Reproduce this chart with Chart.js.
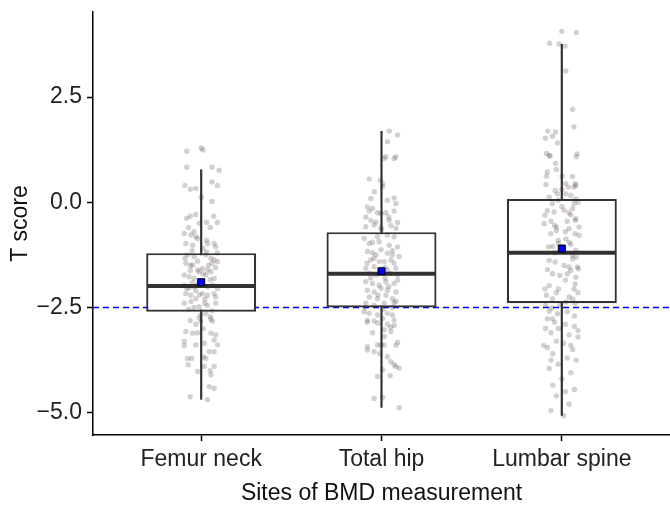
<!DOCTYPE html>
<html>
<head>
<meta charset="utf-8">
<script src="https://cdn.jsdelivr.net/npm/chart.js@4.4.0/dist/chart.umd.min.js"></script>
<style>
  html, body { margin: 0; padding: 0; background: #fff; }
  #wrap { width: 670px; height: 505px; position: relative; }
</style>
</head>
<body>
<div id="wrap"><canvas id="bmdChart"></canvas></div>
<script>
// box statistics per site
const categories = ['Femur neck', 'Total hip', 'Lumbar spine'];
const q1 = [-2.60, -2.50, -2.40];
const medians = [-1.99, -1.70, -1.20];
const q3 = [-1.21, -0.71, 0.08];
const whiskerLow = [-4.69, -4.88, -5.07];
const whiskerHigh = [0.78, 1.69, 3.76];
const means = [-1.90, -1.64, -1.10];
const threshold = -2.5;
const yTicks = [-5, -2.5, 0, 2.5];
const xRange = [0.4, 3.6];
const yRange = [-5.53, 4.52];

// jittered observations: [horizontal jitter, T score]
const femurPts = [
  [-0.08,1.21],[0,1.29],[0.01,1.24],[-0.08,0.83],[0.06,0.83],[0.1,0.76],[-0.09,0.40],[-0.06,0.31],
  [-0.03,0.33],[0.06,0.48],[0.09,0.40],[0,0.12],[0.06,0.02],[-0.08,-0.38],[-0.06,-0.33],[-0.03,-0.29],
  [0.07,-0.33],[0.09,-0.48],[-0.07,-0.60],[-0.01,-0.50],[0.03,-0.48],[0.05,-0.60],
  [-0.094,-0.74],[-0.057,-0.78],[-0.03,-0.82],[-0.02,-0.86],[-0.085,-0.98],[-0.048,-1.02],[0.035,-0.98],
  [0.072,-0.98],[0.081,-1.06],[-0.076,-1.25],[-0.039,-1.29],[0.026,-1.25],[0.054,-1.33],[0.072,-1.37],
  [0.091,-1.41],[-0.085,-1.45],[-0.048,-1.49],[-0.02,-1.61],[-0.011,-1.65],[0.007,-1.57],[0.035,-1.61],
  [0.054,-1.65],[-0.094,-1.73],[-0.067,-1.77],[-0.039,-1.81],[0.026,-1.73],[0.072,-1.81],[-0.094,-1.97],
  [-0.067,-2.03],[-0.039,-2.01],[0.035,-2.01],[0.063,-1.97],[0.091,-2.05],[-0.085,-2.17],[-0.057,-2.21],
  [-0.03,-2.29],[0.007,-2.17],[0.035,-2.21],[0.072,-2.17],[-0.094,-2.40],[-0.057,-2.36],[-0.011,-2.48],
  [0.035,-2.45],[0.081,-2.40],[-0.002,-2.68],[0.026,-2.64],
  [-0.02,-1.40],[0,-1.88],[-0.05,-1.92],[0.04,-1.50],[-0.03,-2.10],[0.02,-2.30],[-0.07,-2.55],
  [0.06,-2.58],[0.01,-1.10],[-0.04,-0.70],
  [-0.05,-1.15],[0.03,-1.18],[-0.09,-1.33],[0.08,-1.55],[-0.06,-1.62],[0.01,-1.70],[0.05,-1.84],
  [-0.02,-1.95],[0.08,-2.25],[-0.08,-2.05],[0.02,-2.40],[-0.04,-2.50],[0.05,-2.72],[-0.03,-2.90],
  [0.01,-3.00],[-0.06,-1.50],[0.03,-0.90],[0.09,-1.20],[-0.01,-2.20],[0.06,-1.45],
  [-0.061,-2.81],[-0.011,-2.75],[-0.002,-2.83],[0.054,-2.78],[0.063,-2.83],[-0.085,-3.07],[-0.048,-3.11],
  [-0.02,-3.10],[0.054,-3.11],[0.081,-3.15],[0.072,-3.27],[0.091,-3.39],[-0.094,-3.31],[-0.094,-3.41],
  [-0.03,-3.39],[0.017,-3.35],[0.044,-3.55],[0.072,-3.55],[-0.076,-3.71],[-0.054,-3.71],[0.013,-3.67],
  [0.026,-3.71],[-0.072,-3.86],[0.017,-3.90],[0.072,-3.90],[-0.02,-4.02],[0.05,-4.00],[0.054,-4.10],
  [0.044,-4.38],[0.072,-4.42],[-0.061,-4.62],[0.035,-4.69]
];
const hipPts = [
  [0.043,1.69],[0.089,1.60],[0.033,1.44],[0.024,1.08],[0.015,1.04],[0.07,1.04],[0.08,1.08],
  [-0.068,0.55],[-0.007,0.52],[0.006,0.44],[0.006,0.37],[-0.059,0.09],[0.033,0.05],[0.07,0.10],
  [0.08,-0.03],[-0.078,-0.11],[-0.05,-0.15],[-0.068,-0.21],[-0.022,-0.25],[-0.003,-0.27],[0.024,-0.25],
  [0.07,-0.21],[-0.087,-0.35],[-0.059,-0.43],[-0.031,-0.47],[0.043,-0.43],[0.089,-0.48],
  [-0.087,-0.58],[-0.041,-0.54],[-0.003,-0.60],[0.052,-0.56],[0.08,-0.62],[-0.096,-0.86],[-0.022,-0.82],
  [0.033,-0.78],[0.07,-0.82],[-0.068,-0.98],[-0.013,-0.94],[0.043,-1.02],[0.089,-1.06],[-0.078,-1.17],
  [-0.05,-1.20],[-0.003,-1.13],[0.033,-1.21],[0.061,-1.25],[0.098,-1.29],[-0.041,-1.33],[-0.013,-1.41],
  [-0.059,-1.37],[0.015,-1.41],[0.052,-1.37],[0.07,-1.45],[-0.087,-1.57],[-0.041,-1.53],[0.033,-1.61],
  [0.08,-1.57],[-0.068,-1.69],[-0.031,-1.73],[0.052,-1.69],[0.089,-1.73],[-0.087,-1.89],[-0.05,-1.93],
  [-0.013,-1.97],[0.024,-1.89],[0.07,-1.93],[-0.078,-2.09],[-0.041,-2.13],[-0.003,-2.05],[0.033,-2.09],
  [0.08,-2.13],[-0.068,-2.25],[-0.022,-2.29],[0.024,-2.21],[0.061,-2.29],[-0.087,-2.40],[-0.041,-2.45],
  [0.015,-2.40],[0.07,-2.39],[-0.096,-2.60],[-0.068,-2.64],[-0.022,-2.68],[0.033,-2.64],[0.061,-2.68],
  [-0.078,-2.80],[-0.041,-2.82],[0.006,-2.76],[0.07,-2.80],
  [0,-0.65],[-0.05,-0.95],[0.06,-1.15],[-0.03,-1.25],[0.02,-1.55],[-0.06,-1.80],[0.09,-1.85],
  [0.04,-2.00],[-0.02,-2.20],[0.08,-2.35],[-0.09,-2.50],[0.01,-2.55],[0.05,-2.97],[-0.05,-3.10],
  [-0.01,-3.60],[0.04,-0.35],[-0.04,0.25],[0.02,-1.80],[-0.08,-1.45],[0.06,-2.50],
  [-0.078,-2.85],[-0.022,-2.87],[0.033,-2.90],[0.07,-2.93],[0.015,-3.03],[0.052,-3.07],[0.015,-3.19],
  [-0.078,-3.43],[-0.078,-3.51],[-0.041,-3.55],[-0.022,-3.39],[-0.003,-3.39],[0.015,-3.39],[0.08,-3.40],
  [0.089,-3.33],[0.033,-3.67],[0.052,-3.79],[0.07,-3.86],[0.098,-3.94],[0.08,-3.90],[0.006,-3.98],
  [-0.022,-4.14],[0.048,-4.12],[-0.041,-4.66],[0.006,-4.64],[0.098,-4.88]
];
const lumbarPts = [
  [0,4.06],[0.081,4.03],[-0.067,3.78],[-0.015,3.76],[0.018,3.71],[0.022,3.12],[0.06,2.21],[0.067,1.79],
  [-0.078,1.69],[-0.035,1.67],[-0.091,1.52],[-0.052,1.57],[-0.024,1.41],[-0.085,1.16],[-0.07,1.11],
  [-0.065,1.10],[0.085,1.15],[0.08,1.08],[-0.035,0.92],[-0.08,0.72],[-0.085,0.62],[-0.03,0.78],
  [0.002,0.62],[0.059,0.61],[0.074,0.44],[0.078,0.40],[0.068,0.36],[-0.088,0.42],[0.022,0.44],[0.037,0.36],
  [-0.037,0.28],[-0.024,0.20],[-0.07,0.12],[0.022,0.20],[0.05,0.16],[0.078,0.08],[0.068,-0.03],
  [-0.052,-0.03],[0.013,-0.19],[0.04,-0.25],[-0.093,-0.31],[-0.043,-0.23],[0.078,-0.39],[0.074,-0.43],
  [-0.098,-0.51],[-0.03,-0.59],[0.096,-0.59],[-0.061,-0.75],[-0.03,-0.67],[0.04,-0.63],[0.074,-0.75],
  [0.096,-0.79],[0.022,-0.87],[-0.074,-1.06],[-0.019,-0.98],[0.078,-1.14],[0.059,-1.26],[-0.07,-1.38],
  [-0.037,-1.42],[0.013,-1.50],[0.04,-1.54],[0.087,-1.54],[0.092,-1.58],[-0.052,-1.70],[-0.011,-1.74],
  [0.05,-1.62],[0.078,-1.78],[0.074,-1.94],[-0.07,-1.98],[-0.093,-2.06],[-0.019,-2.06],[0.068,-2.06],
  [-0.085,-2.21],[0.04,-2.25],[-0.052,-2.29],[0.022,-2.37],[0.074,-2.40],[-0.056,-2.51],[-0.07,-2.59],
  [-0.024,-2.65],[-0.052,-2.77],[-0.08,-2.77],
  [0,-0.10],[0.03,-0.45],[-0.02,-0.90],[0.05,-1.00],[-0.04,-1.20],[0.06,-1.35],[0.02,-1.85],[-0.08,-1.60],
  [0.09,-2.15],[-0.01,-2.45],[0.05,-0.30],[-0.06,-0.45],
  [-0.02,0.05],[0.06,-0.15],[-0.08,-0.20],[0.02,-0.70],[-0.05,-1.05],[0.08,-1.30],[0.03,-1.70],
  [-0.03,-2.15],[0.06,-2.30],[-0.09,-2.45],[0.03,-2.60],[0.07,-2.70],[-0.02,-3.00],[0.05,-3.40],
  [-0.06,-3.75],[0.02,-4.50],[0,0.30],[0.09,0],[-0.04,-0.55],[0.04,-0.95],
  [-0.04,-2.85],[0.02,-2.90],[0.07,-2.95],[-0.09,-3.00],[-0.06,-3.10],[0.04,-3.15],[0.09,-3.20],
  [-0.03,-3.30],[0.01,-3.35],[-0.08,-3.45],[0.06,-3.50],[-0.05,-3.60],[0.03,-3.70],[0.08,-3.75],
  [-0.02,-3.85],[-0.07,-3.95],[0.05,-4.05],[0,-4.20],[-0.05,-4.35],[0.07,-4.45],[-0.03,-4.60],
  [0.04,-4.80],[-0.06,-4.95],[0.01,-5.07],[0.09,-3.05],[-0.1,-3.40]
];
const groupPts = [femurPts, hipPts, lumbarPts];

const FONT = "'Liberation Sans', Arial, Helvetica, sans-serif";
const INK = '#333333';

const datasets = [];

// mean markers on top
datasets.push({
  type: 'scatter', order: 0,
  data: means.map((m, i) => ({ x: i + 1, y: m })),
  pointStyle: 'rect', pointRadius: 5,
  backgroundColor: '#0000ff', borderColor: '#000', borderWidth: 1
});

// jittered points
datasets.push({
  type: 'scatter', order: 1,
  data: groupPts.flatMap((pts, i) => pts.map(([dx, y]) => ({ x: i + 1 + dx, y }))),
  pointRadius: 2.7, borderWidth: 0,
  backgroundColor: 'rgba(60,42,42,0.22)'
});

// medians and whiskers
categories.forEach((c, i) => {
  datasets.push({
    type: 'scatter', order: 2, showLine: true,
    data: [{ x: i + 1 - 0.3, y: medians[i] }, { x: i + 1 + 0.3, y: medians[i] }],
    borderColor: INK, borderWidth: 4, pointRadius: 0
  });
  datasets.push({
    type: 'scatter', order: 4, showLine: true,
    data: [{ x: i + 1, y: whiskerLow[i] }, { x: i + 1, y: whiskerHigh[i] }],
    borderColor: INK, borderWidth: 2.2, pointRadius: 0
  });
});

// boxes
datasets.push({
  type: 'bar', order: 3,
  data: categories.map((c, i) => ({ x: i + 1, y: [q1[i], q3[i]] })),
  backgroundColor: '#ffffff', borderColor: INK, borderWidth: 2.2,
  borderSkipped: false, barPercentage: 0.61, categoryPercentage: 1
});

// osteoporosis threshold
datasets.push({
  type: 'scatter', order: 5, showLine: true,
  data: [{ x: xRange[0], y: threshold }, { x: xRange[1], y: threshold }],
  borderColor: '#0000ff', borderWidth: 1.4, borderDash: [6, 4], pointRadius: 0
});

new Chart(document.getElementById('bmdChart'), {
  type: 'scatter',
  data: { datasets },
  options: {
    responsive: true,
    maintainAspectRatio: false,
    animation: false,
    events: [],
    layout: { autoPadding: false, padding: { top: 12, right: 0, left: 0, bottom: 0 } },
    plugins: { legend: { display: false }, tooltip: { enabled: false } },
    scales: {
      x: {
        type: 'linear', min: xRange[0], max: xRange[1], offset: false,
        afterBuildTicks: s => { s.ticks = categories.map((c, i) => ({ value: i + 1 })); },
        afterFit: s => { s.height = 70; s.paddingLeft = 0; s.paddingRight = 0; },
        border: { display: true, color: '#000', width: 1.5 },
        grid: { display: true, offset: false, drawOnChartArea: false, drawTicks: true, tickLength: 6, tickColor: '#000', tickWidth: 1.5 },
        ticks: {
          color: '#222', padding: 5, maxRotation: 0, autoSkip: false,
          font: { family: FONT, size: 23 },
          callback: v => categories[Math.round(v) - 1]
        },
        title: { display: true, text: 'Sites of BMD measurement', color: '#111', font: { family: FONT, size: 23, lineHeight: 1 }, padding: { top: 0, bottom: 0 } }
      },
      y: {
        type: 'linear', min: yRange[0], max: yRange[1],
        afterBuildTicks: s => { s.ticks = yTicks.map(v => ({ value: v })); },
        afterFit: s => { s.width = 93; s.paddingTop = 0; s.paddingBottom = 0; },
        border: { display: true, color: '#000', width: 1.5 },
        grid: { display: true, drawOnChartArea: false, drawTicks: true, tickLength: 6, tickColor: '#000', tickWidth: 1.5 },
        ticks: {
          color: '#222', padding: 5,
          font: { family: FONT, size: 23 },
          callback: v => v.toFixed(1).replace('-', '\u2212')
        },
        title: { display: true, text: 'T score', color: '#111', font: { family: FONT, size: 23 }, padding: { top: 7, bottom: 0 } }
      }
    }
  }
});
</script>
</body>
</html>
